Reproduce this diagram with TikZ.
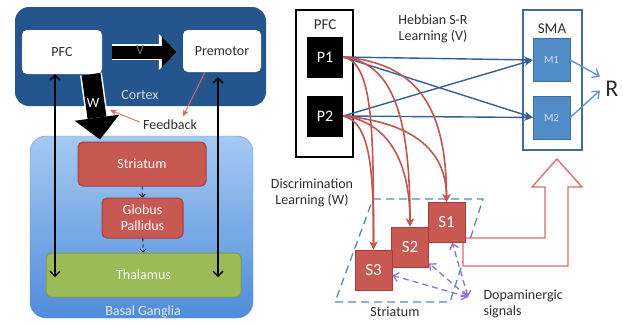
\documentclass[tikz,border=0pt]{standalone}
\usepackage{fontspec}
\setmainfont{Carlito}
\usetikzlibrary{arrows.meta}

\definecolor{ctxblue}{RGB}{36,85,140}
\definecolor{bgtop}{RGB}{165,202,242}
\definecolor{bgbot}{RGB}{80,140,218}
\definecolor{bgline}{RGB}{100,150,208}
\definecolor{boxred}{RGB}{200,88,82}
\definecolor{boxredline}{RGB}{165,62,58}
\definecolor{thalgreen}{RGB}{155,187,89}
\definecolor{thalline}{RGB}{125,155,70}
\definecolor{smablue}{RGB}{60,110,165}
\definecolor{mblue}{RGB}{80,140,200}
\definecolor{hebblue}{RGB}{50,95,150}
\definecolor{outblue}{RGB}{95,150,210}
\definecolor{wred}{RGB}{195,85,80}
\definecolor{fbred}{RGB}{215,110,105}
\definecolor{dopa}{RGB}{140,115,200}
\definecolor{strdash}{RGB}{90,135,180}
\definecolor{txt}{RGB}{45,45,45}

\begin{document}
\begin{tikzpicture}
  [x=1pt,y=-1pt,
   every node/.style={font=\fontsize{14}{16}\selectfont,text=txt},
   region/.style={rounded corners=14pt,inner sep=0},
   whitebox/.style={fill=white,rounded corners=5pt,minimum width=80,minimum height=44,inner sep=0},
   redbox/.style={fill=boxred,draw=boxredline,line width=1pt,rounded corners=5pt,text=white,inner sep=0},
   pbox/.style={fill=black,text=white,minimum width=36,minimum height=41,inner sep=0,font=\fontsize{16}{18}\selectfont},
   mbox/.style={fill=mblue,draw=smablue,text=white!85!blue,minimum width=37,minimum height=43,inner sep=0,font=\fontsize{11}{13}\selectfont},
   sbox/.style={fill=boxred,draw=boxredline,line width=1pt,text=white,minimum width=37,minimum height=40,inner sep=0,font=\fontsize{17}{19}\selectfont},
   fatv/.style={line width=13pt,-{Triangle[width=31pt,length=15pt,line width=0pt]},
     preaction={draw=white,line width=16pt,-{Triangle[width=36pt,length=18pt,line width=0pt]}}},
   fatw/.style={line width=19pt,-{Triangle[width=45pt,length=22pt,line width=0pt]},
     preaction={draw=white,line width=22pt,-{Triangle[width=51pt,length=26pt,line width=0pt]}}},
   dbl/.style={line width=1.3pt,{Straight Barb[length=5pt,width=10pt]}-{Straight Barb[length=5pt,width=10pt]}},
   chain/.style={dashed,line width=0.8pt,-{Straight Barb[length=3pt,width=6pt]}},
   fbarrow/.style={fbred,line width=0.9pt,-{Stealth[length=7pt,width=6pt]}},
   hebbarrow/.style={hebblue,line width=1.4pt,-{Stealth[length=9pt,width=7pt]}},
   outarrow/.style={outblue,line width=1.4pt,-{Straight Barb[length=6pt,width=10pt]}},
   wlearn/.style={wred,line width=1.6pt,-{Stealth[length=8pt,width=8pt]}},
   dopaarrow/.style={dopa,line width=1.3pt,dash pattern=on 6pt off 4pt,
     {Straight Barb[length=5pt,width=9pt]}-{Straight Barb[length=5pt,width=9pt]}}]

  \useasboundingbox (0,0) rectangle (623,324);

  % cortex / basal ganglia loop
  \node[region,fill=ctxblue,minimum width=251,minimum height=99] (cortex) at (140.5,56.5) {};
  \node[region,rounded corners=16pt,top color=bgtop,bottom color=bgbot,draw=bgline,
        minimum width=223,minimum height=182] (bg) at (141.5,227) {};
  \node[text=white!78!ctxblue] (cortexlbl) at (140,95) {Cortex};
  \node[text=white!85!bgbot] (bglbl) at (143,312) {Basal Ganglia};

  \node[whitebox] (pfcl) at (62,52) {PFC};
  \node[whitebox,minimum width=78,minimum height=42] (premotor) at (222,51) {Premotor};
  \node[redbox,minimum width=128,minimum height=44] (strl) at (142,164) {Striatum};
  \node[redbox,minimum width=81,minimum height=40,align=center] (gp) at (142.5,218) {Globus\\Pallidus};
  \node[fill=thalgreen,draw=thalline,line width=1pt,rounded corners=5pt,text=white!92!thalgreen,
        minimum width=195,minimum height=44] (thal) at (143.5,275) {Thalamus};
  \node (feedback) at (170,125) {Feedback};
  \coordinate (wside) at (110,110);

  \draw[fatv] ([xshift=10pt]pfcl.east) -- ([xshift=-6pt]premotor.west |- pfcl.east);
  \node[text=black!55] (vlbl) at (140,50) {V};
  \draw[fatw] ([xshift=29pt]pfcl.south) -- ([xshift=-42pt,yshift=2pt]strl.north);
  \node[text=white] (wlbl) at (93,103) {W};

  \draw[dbl] ([xshift=-7pt]pfcl.south) -- ([xshift=-7pt,yshift=-2pt]pfcl.south |- thal.center);
  \draw[dbl,shorten <=5pt] ([xshift=-4pt]premotor.south) -- ([xshift=-4pt,yshift=-2pt]premotor.south |- thal.center);
  \draw[chain] (strl) -- (gp);
  \draw[chain] (gp) -- (thal);

  \draw[fbarrow] ([xshift=-17pt]premotor.south) -- ([xshift=13pt]feedback.north);
  \draw[fbarrow] ([yshift=3pt]feedback.west) -- (wside);

  % PFC -> SMA
  \node[draw=black,line width=1.3pt,minimum width=57,minimum height=147,inner sep=0] (pfcr) at (324.5,83.5) {};
  \node[font=\fontsize{15}{17}\selectfont] (pfcrlbl) at (325,25) {PFC};
  \node[pbox] (p1) at (325,57) {P1};
  \node[pbox] (p2) at (325,116) {P2};
  \node[draw=smablue,line width=1.3pt,minimum width=59,minimum height=140,inner sep=0] (sma) at (552.5,80) {};
  \node[font=\fontsize{15}{17}\selectfont] (smalbl) at (552,29) {SMA};
  \node[mbox] (m1) at (551.5,60) {M1};
  \node[mbox] (m2) at (551.5,117.5) {M2};
  \node[font=\fontsize{24}{26}\selectfont] (r) at (612,88.5) {R};
  \node[align=center] (hebb) at (433,29) {Hebbian S-R\\Learning (V)};

  \foreach \from/\to in {p1/m1,p1/m2,p2/m1,p2/m2}
    \draw[hebbarrow] (\from.east) -- (\to.west);
  \draw[outarrow] (m1.east) -- ([xshift=-2pt,yshift=12pt]r.west);
  \draw[outarrow] (m2.east) -- ([xshift=-2pt,yshift=-2pt]r.west);

  % striatum
  \draw[strdash,line width=1.3pt,dash pattern=on 8pt off 5pt] (373,199) -- (483,199) -- (450,302) -- (335,302) -- cycle;
  \draw[fbred,line width=1.3pt,fill=white] (463,238) -- (545,238) -- (545,187) -- (532,187) -- (557,159)
    -- (582,187) -- (568,187) -- (568,266) -- (463,266) -- cycle;
  \node[sbox] (s1) at (446.5,222.5) {S1};
  \node[sbox] (s2) at (410,247) {S2};
  \node[sbox] (s3) at (373.5,270) {S3};
  \node (strr) at (395,312) {Striatum};
  \node[align=center] (disc) at (312,193) {Discrimination\\Learning (W)};
  \node[align=left,anchor=west] (dop) at (480,304) {Dopaminergic\\signals};
  \coordinate (dopsrc) at (468,297);

  \foreach \s in {s1,s2,s3}
    \draw[dopaarrow] (dopsrc) -- (\s);

  \foreach \from/\to/\a/\b in {p1/s1/70/100,p1/s2/50/110,p1/s3/30/120,p2/s1/65/55,p2/s2/45/65,p2/s3/28/75}
    \draw[wlearn] (\from.east) .. controls +(\a,6) and +(0,-\b) .. (\to.north);

\end{tikzpicture}
\end{document}
